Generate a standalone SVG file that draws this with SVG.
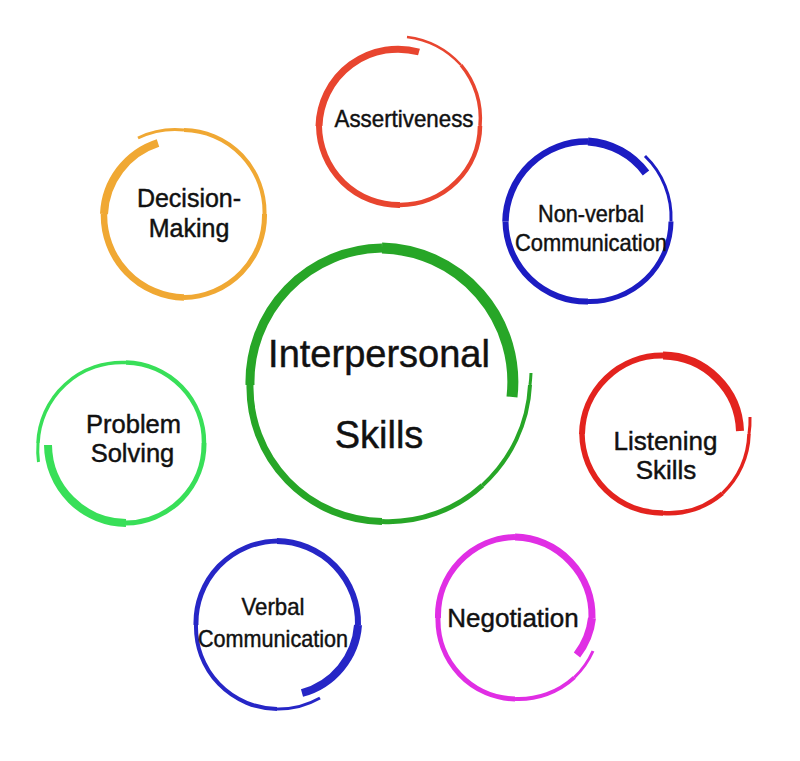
<svg xmlns="http://www.w3.org/2000/svg" width="800" height="761" viewBox="0 0 800 761">
<style>
  .ring path { fill: none; stroke-linecap: butt; }
  .lbl { font-family: "Liberation Sans", Arial, sans-serif; fill: #111; stroke: #111; stroke-width: 0.45; text-anchor: middle; }
  .green path { stroke: #27a627; }
  .red path { stroke: #e8452f; }
  .orange path { stroke: #f0a833; }
  .blue path { stroke: #1c1cc2; }
  .red2 path { stroke: #e3231e; }
  .magenta path { stroke: #e02ee4; }
  .blue2 path { stroke: #2626c6; }
  .lime path { stroke: #38df58; }
</style>
<rect width="800" height="761" fill="#ffffff"/>

<g id="interpersonal-skills">
  <g class="ring green">
    <path d="M512 397 A134 134 0 0 0 382 248" stroke-width="11"/>
    <path d="M382 248 A134 134 0 0 0 250 385" stroke-width="9"/>
    <path d="M250 385 A134 134 0 0 0 382 521.5" stroke-width="7"/>
    <path d="M382 521.5 A139 139 0 0 0 482.4 485.4" stroke-width="5"/>
    <path d="M482.4 485.4 A145 145 0 0 0 530 385" stroke-width="4"/>
    <path d="M530 385 A148 148 0 0 0 531 373" stroke-width="3"/>
  </g>
  <text class="lbl" x="379" y="367" font-size="38">Interpersonal</text>
  <text class="lbl" x="379" y="448" font-size="38">Skills</text>
</g>

<g id="assertiveness">
  <g class="ring red">
    <path d="M419 52 A79 79 0 0 0 319 126" stroke-width="7"/>
    <path d="M319 126 A80 80 0 0 0 400 205" stroke-width="6"/>
    <path d="M400 205 A80 80 0 0 0 480 126" stroke-width="4.5"/>
    <path d="M480 126 A83 83 0 0 0 461 65" stroke-width="3.5"/>
    <path d="M461 65 A88 88 0 0 0 407 37" stroke-width="2.5"/>
  </g>
  <text class="lbl" x="404" y="127" font-size="24" textLength="139" lengthAdjust="spacingAndGlyphs">Assertiveness</text>
</g>

<g id="decision-making">
  <g class="ring orange">
    <path d="M158 143 A78 78 0 0 0 104 214" stroke-width="8"/>
    <path d="M104 214 A82 82 0 0 0 184 297.5" stroke-width="6.5"/>
    <path d="M184 297.5 A82 82 0 0 0 264.5 214" stroke-width="5"/>
    <path d="M264.5 214 A82 82 0 0 0 184 130" stroke-width="4"/>
    <path d="M184 130 A86 86 0 0 0 138 138" stroke-width="3"/>
  </g>
  <text class="lbl" x="189" y="207" font-size="25">Decision-</text>
  <text class="lbl" x="189" y="237" font-size="25">Making</text>
</g>

<g id="non-verbal-communication">
  <g class="ring blue">
    <path d="M646 173 A78 78 0 0 0 588 141.5" stroke-width="8"/>
    <path d="M588 141.5 A81 81 0 0 0 505.5 221.5" stroke-width="6.5"/>
    <path d="M505.5 221.5 A81 81 0 0 0 588 301.5" stroke-width="6"/>
    <path d="M588 301.5 A81 81 0 0 0 671 221.5" stroke-width="5"/>
    <path d="M671 221.5 A85 85 0 0 0 645 156" stroke-width="3"/>
  </g>
  <text class="lbl" x="591" y="222" font-size="24" textLength="106" lengthAdjust="spacingAndGlyphs">Non-verbal</text>
  <text class="lbl" x="591" y="251" font-size="24" textLength="152" lengthAdjust="spacingAndGlyphs">Communication</text>
</g>

<g id="listening-skills">
  <g class="ring red2">
    <path d="M740 431 A78 78 0 0 0 663 355.5" stroke-width="8"/>
    <path d="M663 355.5 A80 80 0 0 0 582 434" stroke-width="6"/>
    <path d="M582 434 A80 80 0 0 0 663 513" stroke-width="5.5"/>
    <path d="M663 513 A82 82 0 0 0 722.4 493.4" stroke-width="4.5"/>
    <path d="M722.4 493.4 A85 85 0 0 0 749 434" stroke-width="3.5"/>
    <path d="M749 434 A87 87 0 0 0 750 417" stroke-width="3"/>
  </g>
  <text class="lbl" x="665.5" y="450" font-size="26">Listening</text>
  <text class="lbl" x="666" y="479" font-size="26">Skills</text>
</g>

<g id="negotiation">
  <g class="ring magenta">
    <path d="M577 655 A74 74 0 0 0 592 618" stroke-width="8"/>
    <path d="M592 618 A79 79 0 0 0 515 537" stroke-width="7"/>
    <path d="M515 537 A79 79 0 0 0 438 618" stroke-width="6"/>
    <path d="M438 618 A79 79 0 0 0 515 699" stroke-width="5"/>
    <path d="M515 699 A82 82 0 0 0 574.4 677.4" stroke-width="4"/>
    <path d="M574.4 677.4 A84 84 0 0 0 593 651" stroke-width="3"/>
  </g>
  <text class="lbl" x="513" y="627" font-size="26">Negotiation</text>
</g>

<g id="verbal-communication">
  <g class="ring blue2">
    <path d="M302 693 A76 76 0 0 0 358 625" stroke-width="8"/>
    <path d="M358 625 A82 82 0 0 0 277 541" stroke-width="6"/>
    <path d="M277 541 A82 82 0 0 0 196 625" stroke-width="5"/>
    <path d="M196 625 A82 82 0 0 0 277 709" stroke-width="4"/>
    <path d="M277 709 A84 84 0 0 0 320 698" stroke-width="3"/>
  </g>
  <text class="lbl" x="273" y="615" font-size="24" textLength="63" lengthAdjust="spacingAndGlyphs">Verbal</text>
  <text class="lbl" x="273" y="647" font-size="24" textLength="150" lengthAdjust="spacingAndGlyphs">Communication</text>
</g>

<g id="problem-solving">
  <g class="ring lime">
    <path d="M48 445 A79 79 0 0 0 126 523" stroke-width="8"/>
    <path d="M126 523 A79 79 0 0 0 204 443" stroke-width="5"/>
    <path d="M204 443 A80 80 0 0 0 126 362.5" stroke-width="4.5"/>
    <path d="M126 362.5 A84 84 0 0 0 38 443" stroke-width="3.5"/>
    <path d="M38 443 A88 88 0 0 0 38.5 462" stroke-width="3"/>
  </g>
  <text class="lbl" x="133.5" y="433" font-size="25.5">Problem</text>
  <text class="lbl" x="132.5" y="462" font-size="25.5">Solving</text>
</g>

<g id="connectors"></g>
</svg>
